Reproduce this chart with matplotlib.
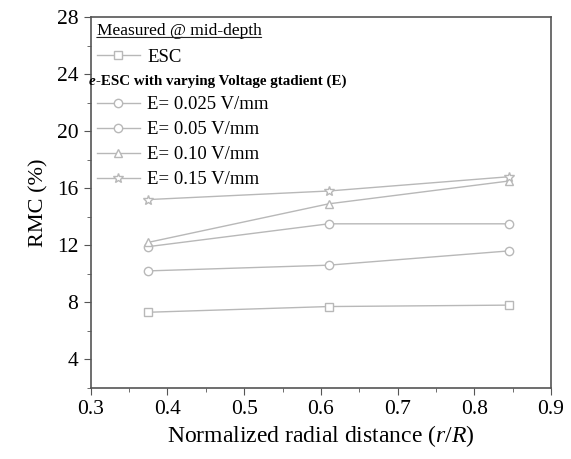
import matplotlib.pyplot as plt
from matplotlib.ticker import MultipleLocator

# radial positions (r/R)
r_pos = [0.375, 0.61, 0.845]

# RMC (%) measured at mid-depth
esc = [7.3, 7.7, 7.8]
e_0025 = [10.2, 10.6, 11.6]
e_005 = [11.9, 13.5, 13.5]
e_010 = [12.2, 14.9, 16.5]
e_015 = [15.2, 15.8, 16.8]

e_labels = ['E= 0.025 V/mm', 'E= 0.05 V/mm', 'E= 0.10 V/mm', 'E= 0.15 V/mm']
e_markers = ['o', 'o', '^', '*']

plt.rcParams['font.family'] = ['Liberation Serif', 'DejaVu Serif']
plt.rcParams['mathtext.fontset'] = 'custom'
plt.rcParams['mathtext.rm'] = 'Liberation Serif'
plt.rcParams['mathtext.it'] = 'Liberation Serif:italic'

LINE = '#b8b8b8'
AXC = '#555555'

fig = plt.figure(figsize=(5.71, 4.59), dpi=100)
ax = fig.add_axes([0.159, 0.155, 0.806, 0.808])

style = dict(color=LINE, lw=1.0, mfc='white', mec=LINE, mew=1.0)
h_esc, = ax.plot(r_pos, esc, marker='s', ms=5.5, **style)
handles = []
for vals, m in zip([e_0025, e_005, e_010, e_015], e_markers):
    ms = 7.5 if m == '*' else 6
    h, = ax.plot(r_pos, vals, marker=m, ms=ms, **style)
    handles.append(h)

ax.set_xlim(0.3, 0.9)
ax.set_ylim(2, 28)
ax.xaxis.set_major_locator(MultipleLocator(0.1))
ax.xaxis.set_minor_locator(MultipleLocator(0.05))
ax.yaxis.set_minor_locator(MultipleLocator(2))
ax.set_yticks([4, 8, 12, 16, 20, 24, 28])
ax.tick_params(which='both', direction='out', color=AXC, labelsize=15.5, top=False, right=False)
ax.tick_params(which='major', length=5, pad=4)
ax.tick_params(which='minor', length=3)
for s in ax.spines.values():
    s.set_color(AXC)
    s.set_linewidth(1.2)

ax.set_xlabel('Normalized radial distance ($\\it{r/R}$)', fontsize=17, labelpad=3)
ax.set_ylabel('RMC (%)', fontsize=16, labelpad=6)

# legend block
t1 = ax.text(0.013, 0.962, 'Measured @ mid-depth', transform=ax.transAxes,
             fontsize=12.5, va='center', ha='left')
ax.annotate('', xy=(0, 0.1), xycoords=t1, xytext=(1, 0.1), textcoords=t1,
            arrowprops=dict(arrowstyle='-', color='#222222', lw=0.8,
                            shrinkA=0, shrinkB=0))
leg_kw = dict(frameon=False, fontsize=13.5, handlelength=2.3, handletextpad=0.4,
              borderaxespad=0, borderpad=0, labelspacing=0.42)
leg1 = ax.legend([h_esc], ['ESC'], loc='center left', bbox_to_anchor=(0.013, 0.892), **leg_kw)
ax.add_artist(leg1)
t2 = ax.text(-0.004, 0.827, 'e', transform=ax.transAxes, fontsize=10.8,
             fontweight='bold', fontstyle='italic', va='center', ha='left')
ax.annotate('-ESC with varying Voltage gtadient (E)', xy=(1, 0), xycoords=t2,
            va='bottom', ha='left', fontsize=10.8, fontweight='bold')
ax.legend(handles, e_labels, loc='center left', bbox_to_anchor=(0.013, 0.662), **leg_kw)

fig.savefig('out.png', dpi=100)
